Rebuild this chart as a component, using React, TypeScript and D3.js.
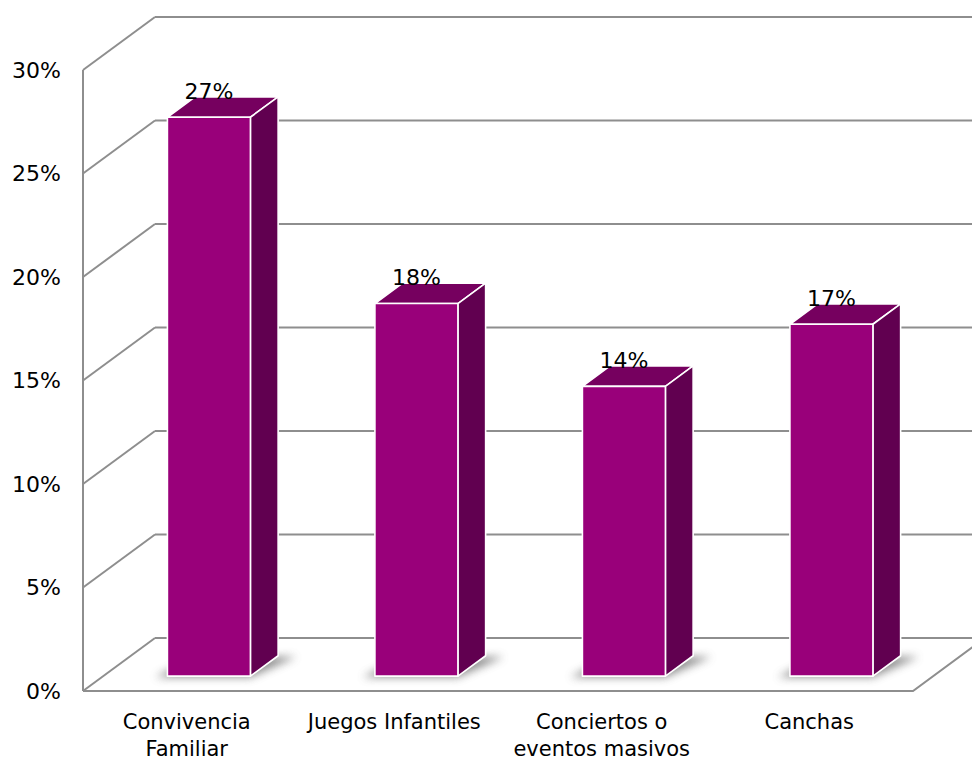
import React from "react";
import * as d3 from "d3";

// Survey results: share of responses per activity
const categories = ["Convivencia Familiar", "Juegos Infantiles", "Conciertos o eventos masivos", "Canchas"];
const categoryLines = [["Convivencia", "Familiar"], ["Juegos Infantiles"], ["Conciertos o", "eventos masivos"], ["Canchas"]];
const values = [27, 18, 14, 17];
const yTicks = [0, 5, 10, 15, 20, 25, 30];

const W = 972;
const H = 761;

// Oblique projection for the 3D box: depth z in [0, 1]
const DX = 72;
const DY = -53;
const Z0 = 0.28;
const Z1 = 0.665;

const FRONT = "#99007a";
const TOP = "#76005f";
const SIDE = "#610050";
const GRID = "#8e8e8e";
const FONT = "'DejaVu Sans', sans-serif";

export default function App() {
  const x = d3
    .scaleBand<string>()
    .domain(categories)
    .range([83, 913])
    .paddingInner(0.6)
    .paddingOuter(0.3);
  const y = d3.scaleLinear().domain([0, 30]).range([691, 70]);

  const p = (xf: number, v: number, z: number): [number, number] => [xf + z * DX, y(v) + z * DY];
  const poly = (pts: [number, number][]) => pts.map((q) => q.join(",")).join(" ");

  const x0Axis = x.range()[0];
  const x1Axis = x.range()[1];
  const shift = 2; // nudge so the bars sit where the depth offset places them

  return (
    <svg
      width={W}
      height={H}
      viewBox={`0 0 ${W} ${H}`}
      style={{ position: "absolute", left: 0, top: 0, background: "#fff" }}
    >
      <defs>
        <filter id="shadow" x="-50%" y="-200%" width="200%" height="500%">
          <feGaussianBlur stdDeviation="4.5" />
        </filter>
      </defs>

      {/* side wall diagonals and back wall gridlines */}
      <g stroke={GRID} strokeWidth={2} fill="none">
        {yTicks.map((t) => {
          const a = p(x0Axis, t, 0);
          const b = p(x0Axis, t, 1);
          return (
            <g key={t}>
              <line x1={a[0]} y1={a[1]} x2={b[0]} y2={b[1]} />
              <line x1={b[0]} y1={b[1]} x2={W + 20} y2={b[1]} />
            </g>
          );
        })}
        {/* front vertical axis */}
        <line x1={p(x0Axis, 0, 0)[0]} y1={p(x0Axis, 0, 0)[1]} x2={p(x0Axis, 30, 0)[0]} y2={p(x0Axis, 30, 0)[1]} />
        {/* floor front edge and right edge */}
        <polyline points={poly([p(x0Axis, 0, 0), p(x1Axis, 0, 0), p(x1Axis, 0, 1)])} />
      </g>

      {/* y tick labels */}
      <g fontFamily={FONT} fontSize={22} fill="#000" textAnchor="end">
        {yTicks.map((t) => (
          <text key={t} x={61} y={y(t)} dy="0.36em">
            {t}%
          </text>
        ))}
      </g>

      {/* soft floor shadows */}
      <g filter="url(#shadow)" fill="#6a6a6a" opacity={0.75}>
        {categories.map((c, i) => {
          const xl = x(c)! + shift;
          const xr = xl + x.bandwidth();
          return (
            <polygon
              key={"s" + i}
              points={poly([
                [p(xl, 0, Z0)[0] - 12, p(xl, 0, Z0)[1] + 1],
                [p(xr, 0, Z0)[0], p(xr, 0, Z0)[1] + 1],
                [p(xr, 0, Z1)[0] + 18, p(xr, 0, Z1)[1] + 1],
                [p(xl, 0, Z1)[0], p(xl, 0, Z1)[1] + 1],
              ])}
            />
          );
        })}
      </g>

      {/* bars */}
      <g stroke="#fff" strokeWidth={1.6} strokeLinejoin="round">
        {categories.map((c, i) => {
          const v = values[i];
          const xl = x(c)! + shift;
          const xr = xl + x.bandwidth();
          return (
            <g key={c}>
              <polygon fill={TOP} points={poly([p(xl, v, Z0), p(xr, v, Z0), p(xr, v, Z1), p(xl, v, Z1)])} />
              <polygon fill={SIDE} points={poly([p(xr, v, Z0), p(xr, 0, Z0), p(xr, 0, Z1), p(xr, v, Z1)])} />
              <polygon fill={FRONT} points={poly([p(xl, v, Z0), p(xr, v, Z0), p(xr, 0, Z0), p(xl, 0, Z0)])} />
            </g>
          );
        })}
      </g>

      {/* value labels */}
      <g fontFamily={FONT} fontSize={22} fill="#000" textAnchor="middle">
        {categories.map((c, i) => {
          const v = values[i];
          const cx = x(c)! + shift + x.bandwidth() / 2 + Z0 * DX;
          const ty = p(0, v, Z1)[1] + 2;
          return (
            <text key={c} x={cx} y={ty}>
              {v}%
            </text>
          );
        })}
      </g>

      {/* category labels */}
      <g fontFamily={FONT} fontSize={21} fill="#000" textAnchor="middle">
        {categories.map((c, i) => {
          const cx = x(c)! + x.bandwidth() / 2;
          return (
            <text key={c} x={cx} y={729}>
              {categoryLines[i].map((line, k) => (
                <tspan key={k} x={cx} dy={k === 0 ? 0 : 27}>
                  {line}
                </tspan>
              ))}
            </text>
          );
        })}
      </g>
    </svg>
  );
}
